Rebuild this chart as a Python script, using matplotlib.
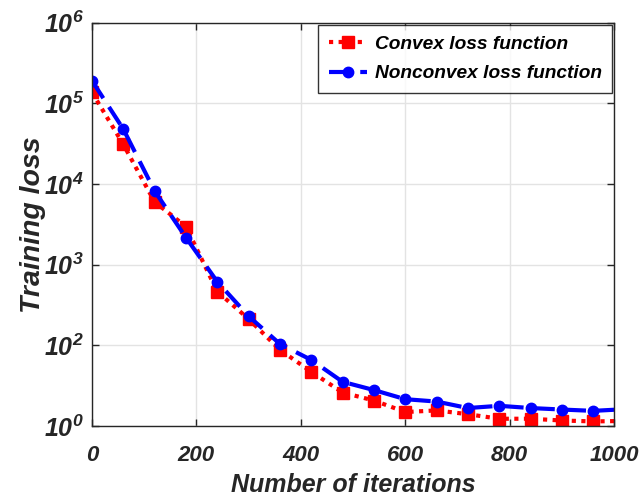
import numpy as np
import matplotlib
matplotlib.use("Agg")
import matplotlib.pyplot as plt

# iterations (markers every 60, curve continues to 1000)
iterations = [0, 60, 120, 180, 240, 300, 360, 420, 480, 540, 600, 660, 720,
              780, 840, 900, 960, 1000]
convex_loss = [1.37e5, 3.1e4, 6.0e3, 2.97e3, 4.65e2, 2.12e2, 88, 47, 26, 20.7,
               14.9, 15.6, 14.0, 12.3, 12.3, 11.7, 11.4, 11.5]
nonconvex_loss = [1.91e5, 4.8e4, 8.2e3, 2.17e3, 6.15e2, 2.3e2, 104, 66, 35.3,
                  27.9, 21.5, 20.1, 16.7, 17.8, 16.7, 16.0, 15.4, 15.9]

x_ticks = [0, 200, 400, 600, 800, 1000]
y_ticks = [1e1, 1e2, 1e3, 1e4, 1e5, 1e6]
y_ticklabels = ["$10^{0}$", "$10^{2}$", "$10^{3}$", "$10^{4}$", "$10^{5}$", "$10^{6}$"]

plt.rcParams["font.family"] = ["Liberation Sans", "DejaVu Sans"]
plt.rcParams["mathtext.fontset"] = "custom"
plt.rcParams["mathtext.rm"] = "Liberation Sans:italic:bold"
plt.rcParams["mathtext.it"] = "Liberation Sans:italic:bold"
plt.rcParams["mathtext.bf"] = "Liberation Sans:italic:bold"

text_color = "#262626"

fig = plt.figure(figsize=(6.41, 5.0), dpi=100)
ax = fig.add_axes([0.1435, 0.148, 0.8145, 0.8065])

mark_idx = list(range(len(iterations) - 1))
ax.plot(iterations, convex_loss, color="red", linestyle=(0, (1, 1.3)), linewidth=3,
        marker="s", markersize=8, markevery=mark_idx,
        label="Convex loss function")
ax.plot(iterations, nonconvex_loss, color="blue", linestyle=(0, (5, 2.5)), linewidth=3,
        marker="o", markersize=7.5, markevery=mark_idx,
        label="Nonconvex loss function")

ax.set_yscale("log")
ax.set_xlim(0, 1000)
ax.set_ylim(1e1, 1e6)
ax.set_xticks(x_ticks)
ax.set_xticklabels([str(t) for t in x_ticks])
ax.set_yticks(y_ticks)
ax.set_yticklabels(y_ticklabels)
ax.yaxis.set_minor_locator(matplotlib.ticker.NullLocator())

ax.grid(True, color="#e3e3e3", linewidth=1)
ax.set_axisbelow(True)
ax.tick_params(direction="in", top=True, right=True, length=5, width=1,
               colors=text_color)
ax.tick_params(axis="x", labelsize=16, pad=14)
ax.tick_params(axis="y", labelsize=18, pad=6)
for lbl in ax.get_xticklabels() + ax.get_yticklabels():
    lbl.set_fontweight("bold")
    lbl.set_fontstyle("italic")
for sp in ax.spines.values():
    sp.set_color(text_color)
    sp.set_linewidth(1)

ax.set_xlabel("Number of iterations", fontsize=18, fontweight="bold",
              fontstyle="italic", color=text_color, labelpad=5)
ax.set_ylabel("Training loss", fontsize=20.5, fontweight="bold",
              fontstyle="italic", color=text_color, labelpad=-2)

leg = ax.legend(loc="upper right", frameon=True, fancybox=False,
                edgecolor="black", borderaxespad=0.1, handlelength=2.0,
                handletextpad=0.4, labelspacing=0.65, borderpad=0.55,
                prop={"size": 13.8, "weight": "bold", "style": "italic"})
leg.get_frame().set_linewidth(1)

fig.savefig("out.png", dpi=100)
